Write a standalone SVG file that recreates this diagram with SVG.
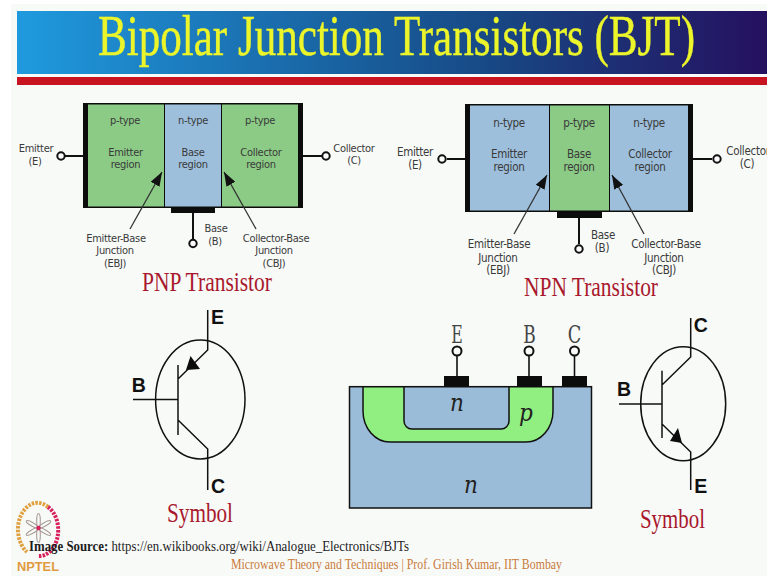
<svg xmlns="http://www.w3.org/2000/svg" width="767" height="576" viewBox="0 0 767 576">
<defs>
<linearGradient id="bar" x1="0" x2="1" y1="0" y2="0"><stop offset="0" stop-color="#1f9ade"/><stop offset="0.35" stop-color="#1a6cac"/><stop offset="0.62" stop-color="#174a86"/><stop offset="1" stop-color="#25105f"/></linearGradient>
<marker id="head" markerUnits="userSpaceOnUse" markerWidth="15" markerHeight="10" refX="14" refY="5" orient="auto"><path d="M0 0L14 5L0 10Z" fill="#111"/></marker>
</defs>
<style>
.lab{font-family:"DejaVu Sans Condensed","DejaVu Sans",sans-serif;font-size:11px;letter-spacing:-0.3px;fill:#3a3a3a;text-anchor:middle}
#npn .lab{font-size:11.5px}
.red{font-family:"Liberation Serif",serif;fill:#a8182c}
.sym{font-family:"Liberation Sans",sans-serif;font-weight:700;font-size:19.5px;fill:#111;text-anchor:middle}
.ser{font-family:"DejaVu Serif",serif;font-size:24px;fill:#444;text-anchor:middle}
.ital{font-family:"DejaVu Serif Condensed","DejaVu Serif",serif;font-style:italic;font-size:24px;fill:#222;text-anchor:middle}
.wire{stroke:#111;stroke-width:2;fill:none}
.thin{stroke:#111;stroke-width:1.6;fill:none}
.term{stroke:#111;stroke-width:2;fill:#fafbfa}
.line{stroke:#111;stroke-width:1.5;fill:none}
.lead{stroke:#333;stroke-width:1.3;fill:none}
.g{fill:#8ccb86}.b{fill:#9dbfdc}.k{fill:#0c0c0c}
</style>
<rect width="767" height="576" fill="#fff"/>
<rect x="11" y="4" width="756" height="572" fill="#f8faf8"/>
<g id="header">
<rect x="17" y="11" width="750" height="63" fill="url(#bar)"/>
<rect x="17" y="77" width="750" height="8" fill="#c81420"/>
<text x="98" y="55" font-family="Liberation Serif, serif" font-size="56" fill="#ecf52a" stroke="#ecf52a" stroke-width="0.4" textLength="597" lengthAdjust="spacingAndGlyphs">Bipolar Junction Transistors (BJT)</text>
</g>
<g id="pnp">
<rect x="83" y="103" width="220" height="105" class="k"/>
<rect x="88" y="104.500" width="76" height="102" class="g"/>
<rect x="165" y="104.500" width="56" height="102" class="b"/>
<rect x="222" y="104.500" width="76" height="102" class="g"/>
<rect x="171" y="207" width="44" height="6" class="k"/>
<path class="wire" d="M65 156H83M303 156H322M193 213V239"/>
<circle class="term" cx="61" cy="156" r="3.700"/><circle class="term" cx="326" cy="156" r="3.700"/><circle class="term" cx="193" cy="243.500" r="3.700"/>
<text class="lab" x="125" y="124">p-type</text><text class="lab" x="193" y="124">n-type</text><text class="lab" x="260" y="124">p-type</text>
<text class="lab" x="125.500" y="156">Emitter</text><text class="lab" x="125.500" y="168">region</text>
<text class="lab" x="193" y="156">Base</text><text class="lab" x="193" y="168">region</text>
<text class="lab" x="261" y="156">Collector</text><text class="lab" x="261" y="168">region</text>
<text class="lab" x="36" y="152">Emitter</text><text class="lab" x="35" y="165">(E)</text>
<text class="lab" x="354" y="152">Collector</text><text class="lab" x="354" y="164">(C)</text>
<text class="lab" x="216" y="232">Base</text><text class="lab" x="215" y="245">(B)</text>
<text class="lab" x="116" y="242">Emitter-Base</text><text class="lab" x="115" y="254">Junction</text><text class="lab" x="115" y="267">(EBJ)</text>
<text class="lab" x="276" y="242">Collector-Base</text><text class="lab" x="274" y="254">Junction</text><text class="lab" x="274" y="267">(CBJ)</text>
<text class="red" x="142" y="291" font-size="27" textLength="130" lengthAdjust="spacingAndGlyphs">PNP Transistor</text>
</g>
<g id="npn">
<rect x="465" y="104" width="228" height="108" class="k"/>
<rect x="470" y="105.500" width="79" height="105" class="b"/>
<rect x="550" y="105.500" width="59" height="105" class="g"/>
<rect x="610" y="105.500" width="78" height="105" class="b"/>
<rect x="557" y="212" width="45" height="6" class="k"/>
<path class="wire" d="M447 159H465M693 159H712M579 218V244"/>
<circle class="term" cx="442" cy="159" r="3.700"/><circle class="term" cx="717" cy="159" r="3.700"/><circle class="term" cx="579" cy="249" r="3.700"/>
<text class="lab" x="509" y="127">n-type</text><text class="lab" x="579" y="127">p-type</text><text class="lab" x="649" y="127">n-type</text>
<text class="lab" x="509" y="158">Emitter</text><text class="lab" x="509" y="171">region</text>
<text class="lab" x="579" y="158">Base</text><text class="lab" x="579" y="171">region</text>
<text class="lab" x="650" y="158">Collector</text><text class="lab" x="650" y="171">region</text>
<text class="lab" x="415" y="156">Emitter</text><text class="lab" x="415" y="169">(E)</text>
<text class="lab" x="748" y="155">Collector</text><text class="lab" x="747" y="168">(C)</text>
<text class="lab" x="603" y="239">Base</text><text class="lab" x="602" y="252">(B)</text>
<text class="lab" x="499" y="248">Emitter-Base</text><text class="lab" x="498" y="262">Junction</text><text class="lab" x="498" y="274">(EBJ)</text>
<text class="lab" x="666" y="248">Collector-Base</text><text class="lab" x="664" y="262">Junction</text><text class="lab" x="664" y="274">(CBJ)</text>
<text class="red" x="524" y="296" font-size="27" textLength="134" lengthAdjust="spacingAndGlyphs">NPN Transistor</text>
</g>
<g id="connectors">
<path class="lead" marker-end="url(#head)" d="M130 229L162 172"/>
<path class="lead" marker-end="url(#head)" d="M256 229L224 172"/>
<path class="lead" marker-end="url(#head)" d="M514 234L547 175"/>
<path class="lead" marker-end="url(#head)" d="M644 234L612 175"/>
</g>
<g id="pnp-symbol">
<ellipse class="line" cx="200.300" cy="399.500" rx="44.700" ry="59.500"/>
<path class="line" d="M207.700 310V350L178 379M178 365V435M133 399.500H178M178 420L207.700 449V490"/>
<path class="k" d="M186 370L190.500 356L200 369Z"/>
<text class="sym" x="217.500" y="324">E</text><text class="sym" x="138.700" y="392">B</text><text class="sym" x="218" y="493">C</text>
<text class="red" x="167" y="522" font-size="27" textLength="66" lengthAdjust="spacingAndGlyphs">Symbol</text>
</g>
<g id="cross-section">
<rect x="349.500" y="386.700" width="242" height="121.300" fill="#9bbcd8" stroke="#111" stroke-width="1.500"/>
<path d="M363 386.700V411A27 31 0 0 0 390 442H526A27 31 0 0 0 553 411V386.700Z" fill="#90ef80" stroke="#111" stroke-width="1.500"/>
<path d="M404 386.700V421A8 8 0 0 0 412 429H501A8 8 0 0 0 509 421V386.700Z" fill="#9bbcd8" stroke="#111" stroke-width="1.500"/>
<rect x="444" y="376" width="25" height="10.500" class="k"/><rect x="517" y="376" width="25" height="10.500" class="k"/><rect x="562" y="376" width="25" height="10.500" class="k"/>
<path class="thin" d="M457 356V376M529 356V376M574.500 356V376"/>
<circle class="term" cx="457" cy="351" r="4.500"/><circle class="term" cx="529" cy="351" r="4.500"/><circle class="term" cx="574.500" cy="351" r="4.500"/>
<text class="ser" x="457" y="342.500" textLength="11.500" lengthAdjust="spacingAndGlyphs">E</text><text class="ser" x="529.500" y="342.500" textLength="12.500" lengthAdjust="spacingAndGlyphs">B</text><text class="ser" x="574.500" y="342.500" textLength="13.500" lengthAdjust="spacingAndGlyphs">C</text>
<text class="ital" x="457" y="411">n</text><text class="ital" x="526" y="421">p</text><text class="ital" x="471" y="493">n</text>
</g>
<g id="npn-symbol">
<ellipse class="line" cx="683.200" cy="403.700" rx="42.500" ry="57"/>
<path class="line" d="M690.700 318V357L662 385M662 370.700V438M619 404H662M662 424L690.700 452V490"/>
<path class="k" d="M682 443L670 441L678 428Z"/>
<text class="sym" x="700.700" y="331.500">C</text><text class="sym" x="624" y="395.500">B</text><text class="sym" x="700.700" y="493">E</text>
<text class="red" x="640" y="528" font-size="27" textLength="65" lengthAdjust="spacingAndGlyphs">Symbol</text>
</g>
<g id="nptel-logo">
<path d="M48 507A19 26 0 1 0 27 552" fill="none" stroke="#e0a040" stroke-width="4" stroke-dasharray="2.500 1.200"/>
<path d="M48 507A19 26 0 0 1 38 556" fill="none" stroke="#d81f5e" stroke-width="4" stroke-dasharray="2.500 1.200"/>
<g fill="none" stroke="#a89a94" stroke-width="1.100">
<g id="petals"><ellipse cx="38.500" cy="521" rx="1.800" ry="7.500"/><ellipse cx="38.500" cy="535" rx="1.800" ry="7.500"/></g>
<ellipse cx="38.500" cy="521" rx="1.800" ry="7" transform="rotate(60 38.500 528)"/><ellipse cx="38.500" cy="535" rx="1.800" ry="7" transform="rotate(60 38.500 528)"/>
<ellipse cx="38.500" cy="521" rx="1.800" ry="7" transform="rotate(120 38.500 528)"/><ellipse cx="38.500" cy="535" rx="1.800" ry="7" transform="rotate(120 38.500 528)"/>
</g>
<circle cx="38.500" cy="528" r="2.200" fill="#d81f5e"/>
<text x="17" y="571" font-family="Liberation Sans, sans-serif" font-weight="700" font-size="13" fill="#e09a40" textLength="42" lengthAdjust="spacingAndGlyphs">NPTEL</text>
</g>
<g id="footer">
<text x="29" y="551" font-family="Liberation Serif, serif" font-size="15.500" fill="#1c1c1c" textLength="380" lengthAdjust="spacingAndGlyphs"><tspan font-weight="700">Image Source:</tspan> https://en.wikibooks.org/wiki/Analogue_Electronics/BJTs</text>
<text x="231" y="569" font-family="Liberation Serif, serif" font-size="14.500" fill="#c87a3a" textLength="331" lengthAdjust="spacingAndGlyphs">Microwave Theory and Techniques | Prof. Girish Kumar, IIT Bombay</text>
</g>
</svg>
